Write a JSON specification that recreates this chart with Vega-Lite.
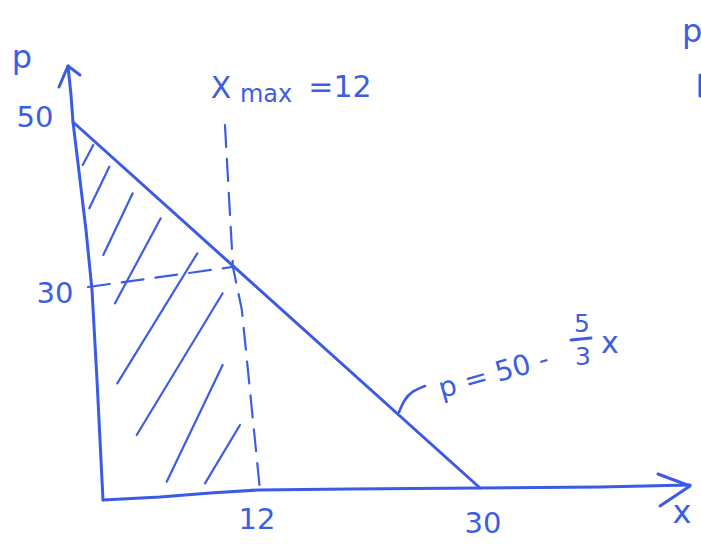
{
  "$schema": "https://vega.github.io/schema/vega-lite/v6.json",
  "width": 701,
  "height": 552,
  "autosize": {"type": "none"},
  "padding": 0,
  "background": "white",
  "config": {"view": {"stroke": null}},
  "datasets": {
    "strokes": [
      {"seg": "p-axis", "i": 0, "x": -0.369, "y": 57.65},
      {"seg": "p-axis", "i": 1, "x": -0.147, "y": 53.69},
      {"seg": "p-axis", "i": 2, "x": 0.0, "y": 50.0},
      {"seg": "p-axis", "i": 3, "x": 0.516, "y": 42.08},
      {"seg": "p-axis", "i": 4, "x": 0.958, "y": 35.25},
      {"seg": "p-axis", "i": 5, "x": 1.4, "y": 27.05},
      {"seg": "p-axis", "i": 6, "x": 1.769, "y": 14.75},
      {"seg": "p-axis", "i": 7, "x": 2.211, "y": -1.64},
      {"seg": "p-arrow", "i": 0, "x": -1.032, "y": 54.78},
      {"seg": "p-arrow", "i": 1, "x": -0.369, "y": 57.65},
      {"seg": "p-arrow", "i": 2, "x": 0.516, "y": 56.42},
      {"seg": "x-axis", "i": 0, "x": 2.211, "y": -1.64},
      {"seg": "x-axis", "i": 1, "x": 6.413, "y": -1.23},
      {"seg": "x-axis", "i": 2, "x": 10.098, "y": -0.683},
      {"seg": "x-axis", "i": 3, "x": 13.636, "y": -0.273},
      {"seg": "x-axis", "i": 4, "x": 20.417, "y": -0.137},
      {"seg": "x-axis", "i": 5, "x": 30.0, "y": 0.0},
      {"seg": "x-axis", "i": 6, "x": 38.845, "y": 0.137},
      {"seg": "x-axis", "i": 7, "x": 45.478, "y": 0.41},
      {"seg": "x-arrow", "i": 0, "x": 43.12, "y": 1.913},
      {"seg": "x-arrow", "i": 1, "x": 45.478, "y": 0.273},
      {"seg": "x-arrow", "i": 2, "x": 43.27, "y": -2.459},
      {"seg": "demand", "i": 0, "x": 0, "y": 50},
      {"seg": "demand", "i": 1, "x": 12, "y": 30},
      {"seg": "demand", "i": 2, "x": 30, "y": 0},
      {"seg": "fraction", "i": 0, "x": 36.71, "y": 20.22},
      {"seg": "fraction", "i": 1, "x": 38.18, "y": 20.49},
      {"seg": "edge", "i": 0, "x": 46.22, "y": 56.42},
      {"seg": "edge", "i": 1, "x": 46.22, "y": 53.55}
    ],
    "hatch": [
      {"seg": 1, "i": 0, "x": 1.496, "y": 46.86},
      {"seg": 1, "i": 1, "x": 0.715, "y": 44.13},
      {"seg": 2, "i": 0, "x": 2.676, "y": 43.89},
      {"seg": 2, "i": 1, "x": 1.201, "y": 38.21},
      {"seg": 3, "i": 0, "x": 4.4, "y": 40.26},
      {"seg": 3, "i": 1, "x": 2.233, "y": 31.83},
      {"seg": 4, "i": 0, "x": 6.464, "y": 36.84},
      {"seg": 4, "i": 1, "x": 3.096, "y": 25.23},
      {"seg": 5, "i": 0, "x": 9.162, "y": 32.06},
      {"seg": 5, "i": 1, "x": 3.265, "y": 14.3},
      {"seg": 6, "i": 0, "x": 11.03, "y": 26.6},
      {"seg": 6, "i": 1, "x": 4.695, "y": 7.24},
      {"seg": 7, "i": 0, "x": 11.03, "y": 16.8},
      {"seg": 7, "i": 1, "x": 6.906, "y": 0.86},
      {"seg": 8, "i": 0, "x": 12.31, "y": 8.61},
      {"seg": 8, "i": 1, "x": 9.73, "y": 0.64}
    ],
    "guides": [
      {"seg": "xmax", "i": 0, "x": 11.2, "y": 49.59},
      {"seg": "xmax", "i": 1, "x": 11.79, "y": 30.19},
      {"seg": "xmax", "i": 2, "x": 12.45, "y": 24.3},
      {"seg": "xmax", "i": 3, "x": 13.78, "y": -0.27},
      {"seg": "p30", "i": 0, "x": 1.106, "y": 27.46},
      {"seg": "p30", "i": 1, "x": 11.72, "y": 30.19}
    ],
    "leader": [
      {"i": 0, "x": 24.03, "y": 10.38},
      {"i": 1, "x": 24.4, "y": 12.02},
      {"i": 2, "x": 24.99, "y": 13.25},
      {"i": 3, "x": 25.95, "y": 13.93}
    ],
    "tickLabels": [
      {"text": "50", "x": -2.801, "y": 50.55},
      {"text": "30", "x": -1.327, "y": 26.5},
      {"text": "12", "x": 13.56, "y": -4.37},
      {"text": "30", "x": 30.22, "y": -4.92}
    ],
    "axisNames": [
      {"text": "p", "x": -3.759, "y": 58.74},
      {"text": "x", "x": 44.89, "y": -3.42},
      {"text": "p", "x": 45.63, "y": 62.3}
    ],
    "xmaxBig": [
      {"text": "X", "x": 10.91, "y": 54.51},
      {"text": "=12", "x": 19.68, "y": 54.64}
    ],
    "xmaxSub": [
      {"text": "max", "x": 14.23, "y": 53.69}
    ],
    "formula": [
      {"text": "p = 50 -", "x": 31.03, "y": 15.44}
    ],
    "fractionDigits": [
      {"text": "5", "x": 37.52, "y": 22.4},
      {"text": "3", "x": 37.59, "y": 17.9}
    ],
    "formulaX": [
      {"text": "x", "x": 39.58, "y": 19.67}
    ]
  },
  "encoding": {
    "x": {"field": "x", "type": "quantitative", "scale": {"domain": [-5.381, 46.29], "nice": false, "zero": false}, "axis": null},
    "y": {"field": "y", "type": "quantitative", "scale": {"domain": [-8.743, 66.667], "nice": false, "zero": false}, "axis": null}
  },
  "layer": [
    {
      "data": {"name": "hatch"},
      "mark": {"type": "line", "color": "#3d5de3", "strokeWidth": 2.2, "strokeCap": "round"},
      "encoding": {"detail": {"field": "seg", "type": "nominal"}, "order": {"field": "i", "type": "quantitative"}}
    },
    {
      "data": {"name": "guides"},
      "mark": {"type": "line", "color": "#3d5de3", "strokeWidth": 2.2, "strokeDash": [22, 12], "strokeCap": "round"},
      "encoding": {"detail": {"field": "seg", "type": "nominal"}, "order": {"field": "i", "type": "quantitative"}}
    },
    {
      "data": {"name": "strokes"},
      "mark": {"type": "line", "color": "#3b5be4", "strokeWidth": 3, "strokeCap": "round", "strokeJoin": "round"},
      "encoding": {"detail": {"field": "seg", "type": "nominal"}, "order": {"field": "i", "type": "quantitative"}}
    },
    {
      "data": {"name": "leader"},
      "mark": {"type": "line", "color": "#3b5be4", "strokeWidth": 2.6, "strokeCap": "round", "interpolate": "basis"},
      "encoding": {"order": {"field": "i", "type": "quantitative"}}
    },
    {
      "data": {"name": "tickLabels"},
      "mark": {"type": "text", "color": "#3d5de3", "font": "DejaVu Sans", "fontSize": 29, "align": "center", "baseline": "middle"},
      "encoding": {"text": {"field": "text"}}
    },
    {
      "data": {"name": "axisNames"},
      "mark": {"type": "text", "color": "#3d5de3", "font": "DejaVu Sans", "fontSize": 32, "align": "center", "baseline": "middle"},
      "encoding": {"text": {"field": "text"}}
    },
    {
      "data": {"name": "xmaxBig"},
      "mark": {"type": "text", "color": "#3d5de3", "font": "DejaVu Sans", "fontSize": 30, "align": "center", "baseline": "middle"},
      "encoding": {"text": {"field": "text"}}
    },
    {
      "data": {"name": "xmaxSub"},
      "mark": {"type": "text", "color": "#3d5de3", "font": "DejaVu Sans", "fontSize": 24, "align": "center", "baseline": "middle"},
      "encoding": {"text": {"field": "text"}}
    },
    {
      "data": {"name": "formula"},
      "mark": {"type": "text", "color": "#3d5de3", "font": "DejaVu Sans", "fontSize": 28, "align": "center", "baseline": "middle", "angle": -16},
      "encoding": {"text": {"field": "text"}}
    },
    {
      "data": {"name": "fractionDigits"},
      "mark": {"type": "text", "color": "#3d5de3", "font": "DejaVu Sans", "fontSize": 25, "align": "center", "baseline": "middle"},
      "encoding": {"text": {"field": "text"}}
    },
    {
      "data": {"name": "formulaX"},
      "mark": {"type": "text", "color": "#3d5de3", "font": "DejaVu Sans", "fontSize": 30, "align": "center", "baseline": "middle"},
      "encoding": {"text": {"field": "text"}}
    }
  ]
}
